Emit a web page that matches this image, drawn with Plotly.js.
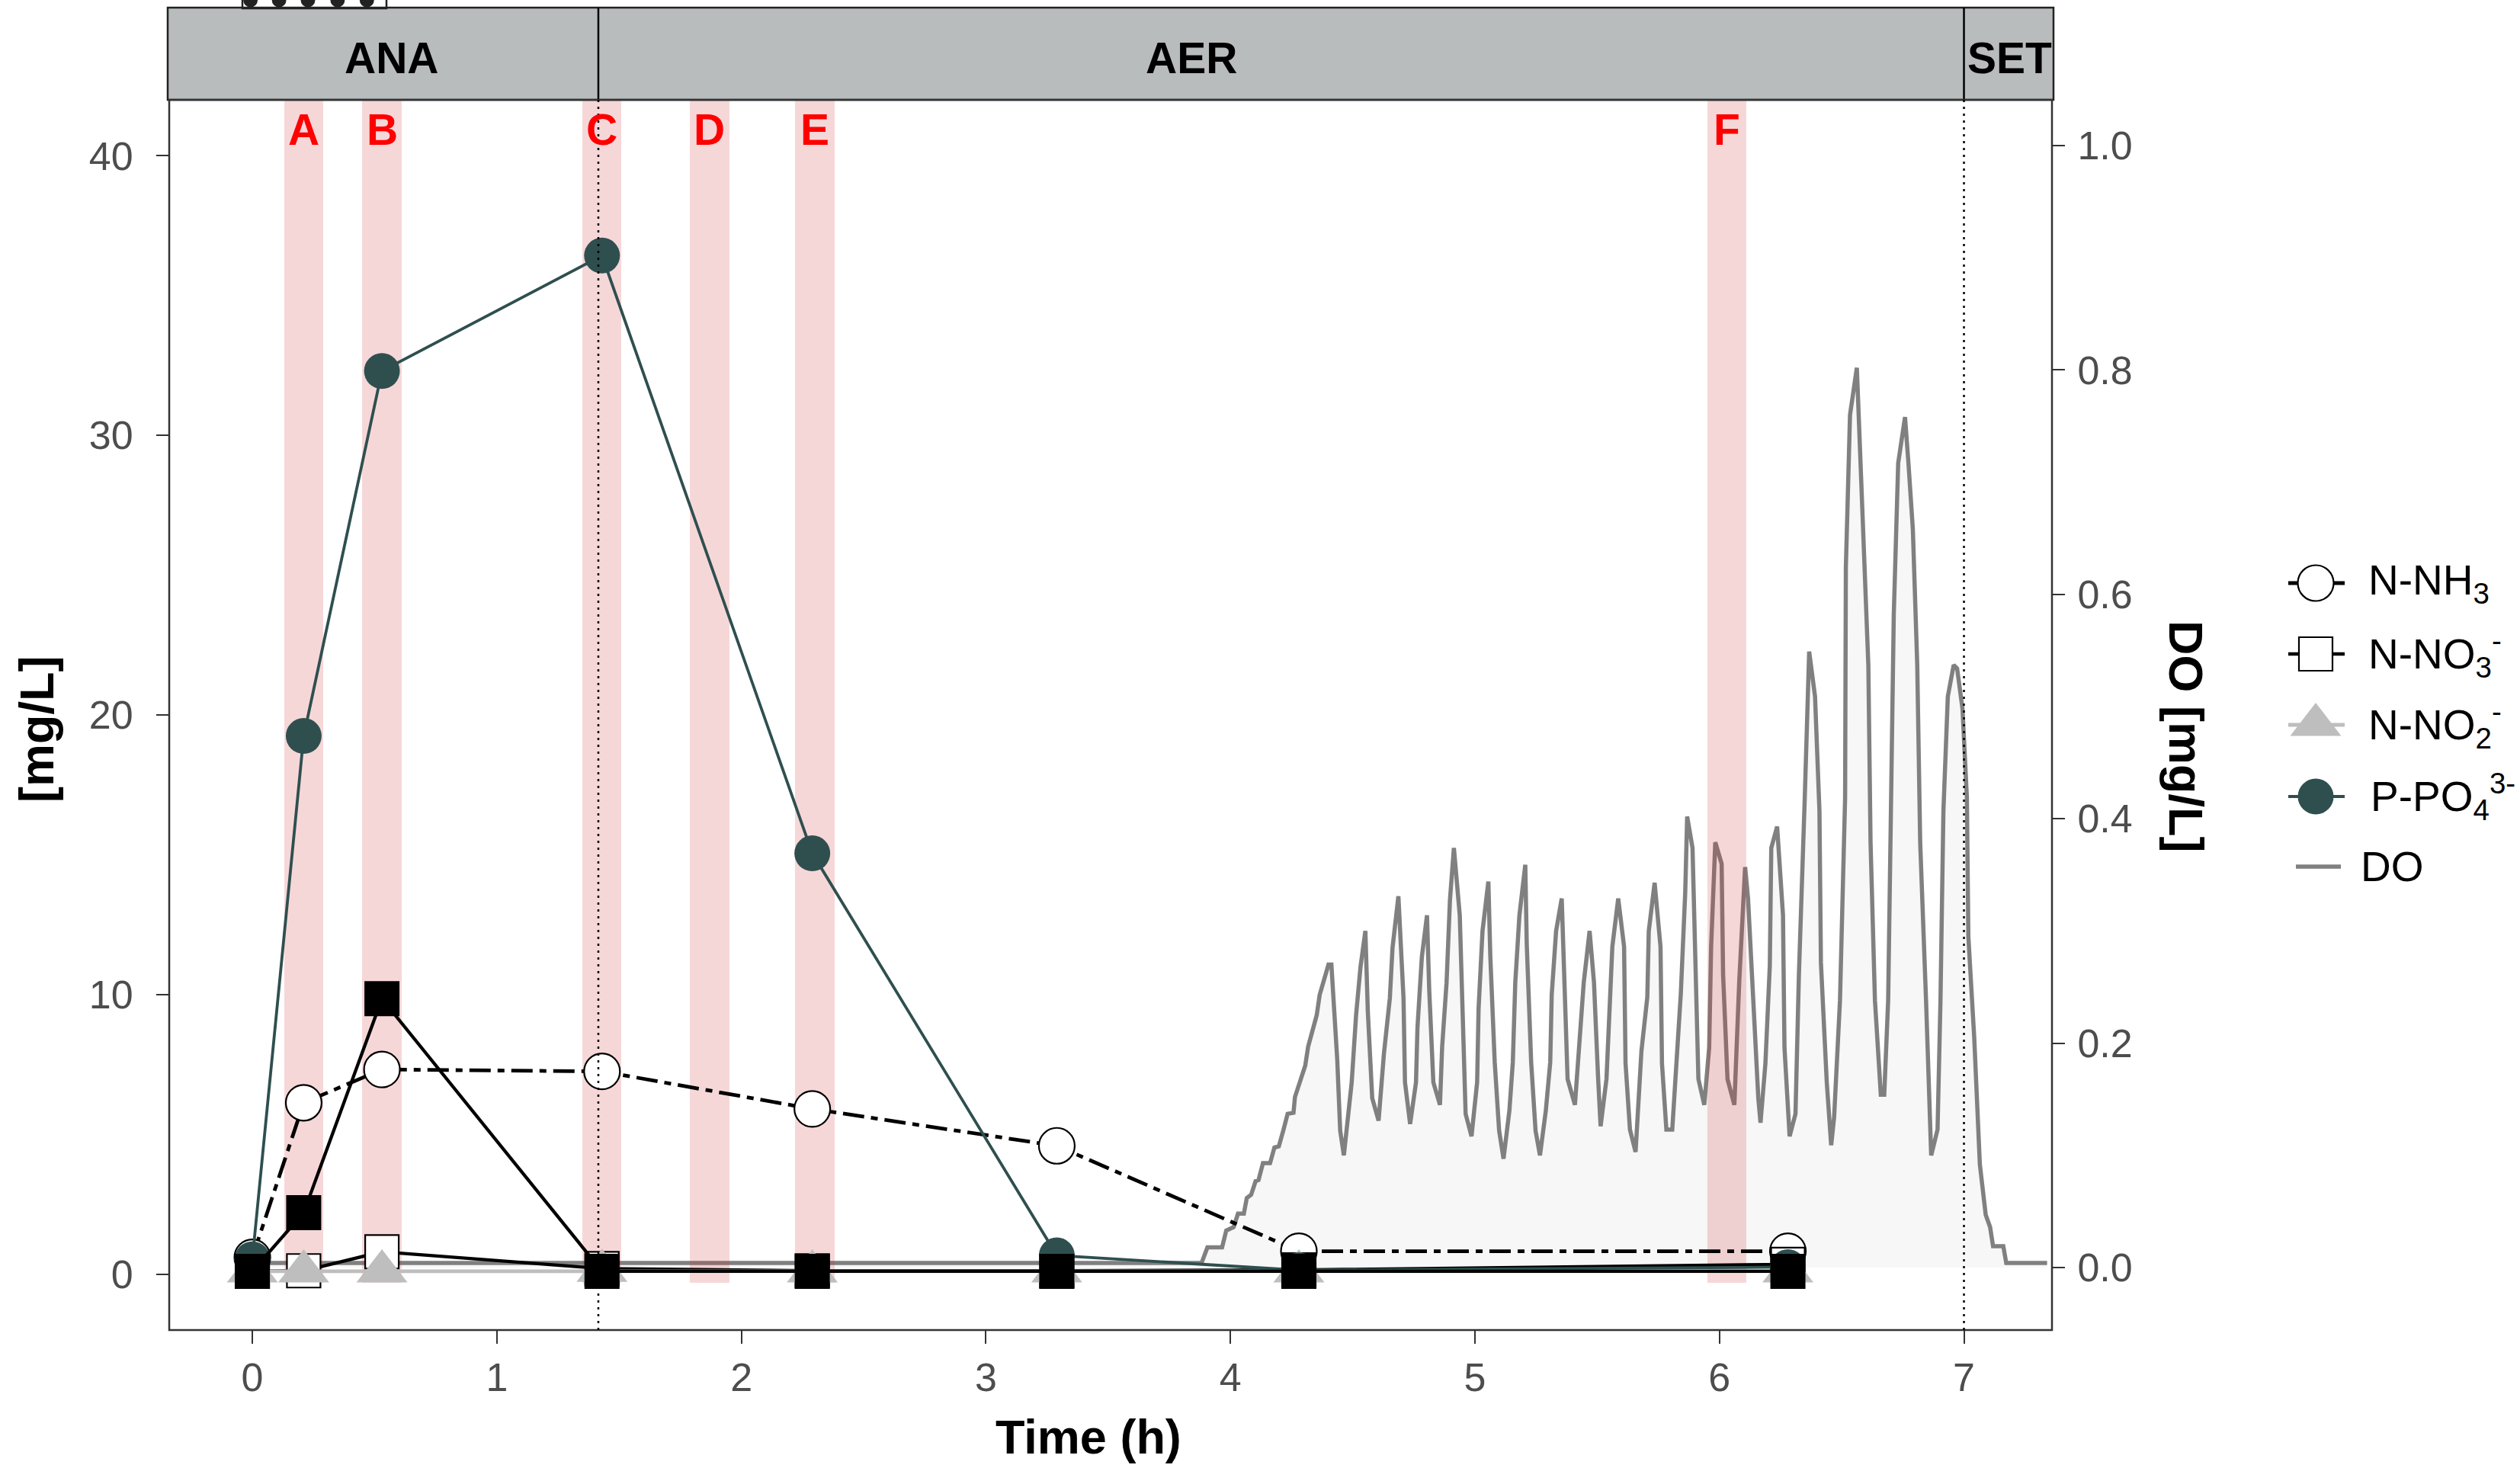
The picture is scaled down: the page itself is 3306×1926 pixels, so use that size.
<!DOCTYPE html>
<html><head><meta charset="utf-8">
<script src="https://cdn.plot.ly/plotly-3.0.1.min.js"></script>
<style>html,body{margin:0;padding:0;background:#fff}#chart{width:3306px;height:1926px}</style>
</head><body><div id="chart"></div>
<script>
// ---------------- data ----------------
const sampleTime = [0, 0.21, 0.53, 1.43, 2.29, 3.29, 4.28, 6.28];
const nNH3  = [0.6, 6.13, 7.32, 7.25, 5.91, 4.59, 0.82, 0.82];
const nNO3  = [0.1, 0.12, 0.80, 0.20, 0.12, 0.12, 0.15, 0.35];
const nNO2  = [0.1, 0.1, 0.1, 0.12, 0.1, 0.1, 0.1, 0.1];
const pPO4  = [0.53, 19.25, 32.3, 36.43, 15.05, 0.67, 0.14, 0.25];
const blackSq = [0.1, 2.2, 9.85, 0.1, 0.1, 0.1, 0.1, 0.1];

const doTime = [0, 3.882, 3.906, 3.966, 3.983, 4.013, 4.031, 4.055, 4.067, 4.085, 4.103, 4.115, 4.133, 4.162, 4.180, 4.198, 4.216, 4.234, 4.258, 4.264, 4.306, 4.318, 4.353, 4.365, 4.401, 4.413,
4.437, 4.449, 4.464,
4.496, 4.514, 4.532, 4.552, 4.562, 4.580, 4.606,
4.628, 4.652, 4.663, 4.687, 4.708, 4.714, 4.735,
4.759, 4.765, 4.783, 4.804, 4.813, 4.830, 4.857,
4.866, 4.884, 4.898, 4.914, 4.938, 4.950, 4.962, 4.986,
5.009, 5.015, 5.031, 5.055, 5.063, 5.081, 5.099, 5.117,
5.141, 5.155, 5.165, 5.182, 5.206, 5.212, 5.230, 5.248, 5.266,
5.290, 5.308, 5.314, 5.332, 5.355, 5.367, 5.379, 5.409,
5.429, 5.445, 5.469, 5.487, 5.504, 5.514,
5.538, 5.562, 5.586, 5.610, 5.616, 5.634, 5.657,
5.681, 5.705, 5.711, 5.735, 5.759, 5.765, 5.783, 5.807,
5.842, 5.860, 5.868, 5.890, 5.902, 5.914, 5.938,
5.958, 5.966, 5.983, 6.009, 6.015, 6.033, 6.061,
6.081, 6.105, 6.117, 6.141, 6.159, 6.168,
6.188, 6.206, 6.212, 6.236, 6.260, 6.266, 6.287,
6.311, 6.325, 6.349, 6.367, 6.391, 6.409, 6.415, 6.439, 6.457,
6.469, 6.493, 6.502, 6.514, 6.517, 6.534, 6.562, 6.570, 6.588, 6.609, 6.618, 6.636, 6.660,
6.674, 6.690, 6.701, 6.713, 6.731, 6.759, 6.773, 6.791, 6.809, 6.821, 6.845, 6.866,
6.892, 6.904, 6.916, 6.934, 6.958, 6.972, 6.994, 7.012, 7.018, 7.042, 7.065, 7.089, 7.107, 7.119, 7.161, 7.173, 7.340];
const doValue = [0.004, 0.004, 0.018, 0.018, 0.033, 0.036, 0.048, 0.048, 0.062, 0.065, 0.077, 0.078, 0.093, 0.093, 0.107, 0.108, 0.122, 0.137, 0.138, 0.152, 0.180, 0.197, 0.225, 0.243, 0.270, 0.270,
0.185, 0.122, 0.100,
0.165, 0.225, 0.268, 0.300, 0.228, 0.151, 0.131,
0.191, 0.240, 0.285, 0.331, 0.240, 0.165, 0.128,
0.165, 0.214, 0.277, 0.314, 0.248, 0.165, 0.145,
0.197, 0.254, 0.328, 0.374, 0.314, 0.208, 0.137, 0.117,
0.165, 0.231, 0.300, 0.344, 0.277, 0.183, 0.122, 0.097,
0.140, 0.183, 0.254, 0.314, 0.359, 0.288, 0.183, 0.122, 0.100,
0.140, 0.183, 0.243, 0.300, 0.329, 0.248, 0.168, 0.145,
0.200, 0.254, 0.300, 0.254, 0.168, 0.126,
0.168, 0.286, 0.329, 0.286, 0.182, 0.123, 0.103,
0.193, 0.241, 0.300, 0.343, 0.286, 0.182, 0.123, 0.123,
0.244, 0.334, 0.402, 0.374, 0.272, 0.168, 0.145,
0.196, 0.286, 0.379, 0.360, 0.261, 0.168, 0.145,
0.255, 0.357, 0.329, 0.222, 0.151, 0.129,
0.182, 0.269, 0.374, 0.393, 0.314, 0.196, 0.117,
0.137, 0.261, 0.419, 0.549, 0.509, 0.407, 0.272, 0.165, 0.109,
0.134, 0.238, 0.323, 0.419, 0.624, 0.760, 0.802, 0.760, 0.650, 0.537, 0.379, 0.238, 0.154,
0.154, 0.238, 0.407, 0.582, 0.717, 0.758, 0.717, 0.658, 0.537, 0.379, 0.238, 0.100,
0.123, 0.238, 0.407, 0.509, 0.537, 0.534, 0.498, 0.419, 0.295, 0.205, 0.092, 0.047, 0.036, 0.019, 0.019, 0.004, 0.004];

const phaseNames = ['ANA', 'AER', 'SET'];
const phaseBounds = [1.415, 7.0];
const bandTime = [0.21, 0.53, 1.43, 1.87, 2.30, 6.03];
const bandLabel = ['A', 'B', 'C', 'D', 'E', 'F'];
const xTicks = [0, 1, 2, 3, 4, 5, 6, 7];
const yTicks = [0, 10, 20, 30, 40];
const doTicks = [0, 0.2, 0.4, 0.6, 0.8, 1.0];
const legendNames = ['N-NH<sub>3</sub>', 'N-NO<sub>3</sub><sup>-</sup>', 'N-NO<sub>2</sub><sup>-</sup>', 'P-PO<sub>4</sub><sup>3-</sup>', 'DO'];

// ---------------- layout helpers ----------------
const W = 3306, H = 1926;
const px = v => v / W, py = v => 1 - v / H;
const FONT = 'Liberation Sans, Arial, Helvetica, sans-serif';
const plotL = 222, plotR = 2692, plotT = 131, plotB = 1745;
const NH3DASH = '28px,9px,9px,9px';

const cNH3 = {line: {color: '#000', width: 4.8, dash: NH3DASH}, marker: {symbol: 'circle', size: 47, color: '#fff', line: {color: '#000', width: 2.2}}};
const cNO3 = {line: {color: '#000', width: 4.3}, marker: {symbol: 'square', size: 44, color: '#fff', line: {color: '#000', width: 2.2}}};
const cNO2 = {line: {color: '#BEBEBE', width: 4.8}, marker: {symbol: 'triangle-up', size: 58, color: '#BEBEBE', line: {width: 0}}};
const cP   = {line: {color: '#2F4F4F', width: 3.8}, marker: {symbol: 'circle', size: 47, color: '#2F4F4F', line: {width: 0}}};
const cBlk = {line: {color: '#000', width: 4.3}, marker: {symbol: 'square', size: 46, color: '#000', line: {width: 0}}};
const cDO  = {line: {color: '#808080', width: 5.5}};

const traces = [];
traces.push({type: 'scatter', x: doTime, y: doValue, xaxis: 'x', yaxis: 'y', mode: 'lines',
  line: cDO.line, fill: 'tozeroy', fillcolor: '#F7F7F7', hoverinfo: 'skip', name: 'DO'});
traces.push({type: 'bar', x: bandTime, y: bandTime.map(() => 42.3), base: -0.3, width: 0.16,
  xaxis: 'x', yaxis: 'y2', marker: {color: 'rgba(205,40,50,0.19)', line: {width: 0}}, hoverinfo: 'skip'});
const series = [[nNH3, cNH3, 'N-NH3'], [nNO3, cNO3, 'N-NO3'], [nNO2, cNO2, 'N-NO2'], [pPO4, cP, 'P-PO4'], [blackSq, cBlk, 'unlabelled']];
series.forEach(([vals, st, nm]) => traces.push({type: 'scatter', x: sampleTime, y: vals, xaxis: 'x', yaxis: 'y2',
  mode: 'lines+markers', line: st.line, marker: st.marker, name: nm, cliponaxis: false}));

// custom legend (glyphs on a hidden helper axis)
const legY = [765, 858, 951, 1045, 1137];
const legStyles = [cNH3, cNO3, cNO2, cP, cDO];
legStyles.forEach((st, i) => {
  const isDO = i === 4;
  traces.push({type: 'scatter', x: isDO ? [3012, 3071] : [3002, 3076], y: [legY[i], legY[i]], xaxis: 'x2', yaxis: 'y3',
    mode: 'lines', line: st.line, hoverinfo: 'skip'});
  if (st.marker) traces.push({type: 'scatter', x: [3038], y: [legY[i]], xaxis: 'x2', yaxis: 'y3',
    mode: 'markers', marker: st.marker, hoverinfo: 'skip'});
});

const axisCommon = {ticks: 'outside', tickwidth: 2, tickcolor: '#333', showgrid: false, zeroline: false, showline: false,
  tickfont: {family: FONT, size: 52, color: '#4D4D4D'}, fixedrange: true};

const shapes = [];
// strip
shapes.push({type: 'rect', xref: 'paper', yref: 'paper', x0: px(220), x1: px(2694), y0: py(plotT), y1: py(10),
  fillcolor: '#B9BCBD', line: {color: '#222', width: 2.5}, layer: 'above'});
phaseBounds.forEach(b => shapes.push({type: 'line', xref: 'x', yref: 'paper', x0: b, x1: b, y0: py(plotT), y1: py(10),
  line: {color: '#000', width: 2.5}, layer: 'above'}));
// frame
shapes.push({type: 'rect', xref: 'paper', yref: 'paper', x0: px(plotL), x1: px(plotR), y0: py(plotB), y1: py(plotT),
  fillcolor: 'rgba(0,0,0,0)', line: {color: '#333', width: 2.5}, layer: 'above'});
// dotted phase lines
phaseBounds.forEach(b => shapes.push({type: 'line', xref: 'x', yref: 'paper', x0: b, x1: b, y0: py(plotB), y1: py(plotT),
  line: {color: '#000', width: 2.5, dash: '3px,6px'}, layer: 'above'}));
// clipped legend fragment at top-left
shapes.push({type: 'rect', xref: 'paper', yref: 'paper', x0: px(318), x1: px(507), y0: py(11), y1: py(-12),
  fillcolor: 'rgba(0,0,0,0)', line: {color: '#222', width: 2.5}, layer: 'above'});
[328.6, 366.1, 404.0, 442.9, 481.3].forEach(cx => shapes.push({type: 'circle', xref: 'paper', yref: 'paper',
  x0: px(cx - 9.5), x1: px(cx + 9.5), y0: py(9.5), y1: py(-9.5), fillcolor: '#222', line: {width: 0}, layer: 'above'}));

const annotations = [];
const phaseLabelX = [514, 1563, 2636];
phaseNames.forEach((n, i) => annotations.push({xref: 'paper', yref: 'paper', x: px(phaseLabelX[i]), y: py(76),
  text: '<b>' + n + '</b>', showarrow: false, xanchor: 'center', yanchor: 'middle', font: {family: FONT, size: 57, color: '#000'}}));
bandLabel.forEach((l, i) => annotations.push({xref: 'x', yref: 'paper', x: bandTime[i], y: py(170),
  text: '<b>' + l + '</b>', showarrow: false, xanchor: 'center', yanchor: 'middle', font: {family: FONT, size: 57, color: '#FF0000'}}));
annotations.push({xref: 'paper', yref: 'paper', x: px(1428), y: py(1885), text: '<b>Time (h)</b>', showarrow: false,
  xanchor: 'center', yanchor: 'middle', font: {family: FONT, size: 63, color: '#000'}});
annotations.push({xref: 'paper', yref: 'paper', x: px(48), y: py(957), text: '<b>[mg/L]</b>', showarrow: false, textangle: -90,
  xanchor: 'center', yanchor: 'middle', font: {family: FONT, size: 63, color: '#000'}});
annotations.push({xref: 'paper', yref: 'paper', x: px(2868), y: py(966), text: '<b>DO [mg/L]</b>', showarrow: false, textangle: 90,
  xanchor: 'center', yanchor: 'middle', font: {family: FONT, size: 63, color: '#000'}});
const legTextX = [3105, 3105, 3105, 3108, 3095];
legendNames.forEach((t, i) => annotations.push({xref: 'paper', yref: 'paper', x: px(legTextX[i]), y: py(legY[i]),
  text: t, showarrow: false, xanchor: 'left', yanchor: 'middle', font: {family: FONT, size: 55, color: '#000'}}));

const layout = {
  width: W, height: H, margin: {l: 0, r: 0, t: 0, b: 0, pad: 0}, paper_bgcolor: '#fff', plot_bgcolor: '#fff',
  showlegend: false, hovermode: false, font: {family: FONT}, bargap: 0,
  xaxis: Object.assign({}, axisCommon, {domain: [px(plotL), px(plotR)], range: [-0.34, 7.36], tickvals: xTicks, ticklen: 17, anchor: 'y'}),
  yaxis: Object.assign({}, axisCommon, {domain: [py(plotB), py(plotT)], range: [-0.0557, 1.0408], side: 'right', anchor: 'x',
    tickvals: doTicks, tickformat: '.1f', ticklen: 16, ticklabelstandoff: 6}),
  yaxis2: Object.assign({}, axisCommon, {overlaying: 'y', side: 'left', anchor: 'x', range: [-2, 42], tickvals: yTicks, ticklen: 16,
    ticklabelstandoff: 20}),
  xaxis2: {domain: [px(2990), px(3090)], range: [2990, 3090], visible: false, anchor: 'y3', fixedrange: true},
  yaxis3: {domain: [py(1200), py(700)], range: [1200, 700], visible: false, anchor: 'x2', fixedrange: true},
  shapes: shapes, annotations: annotations
};

Plotly.newPlot('chart', traces, layout, {staticPlot: true, displayModeBar: false});
</script></body></html>
